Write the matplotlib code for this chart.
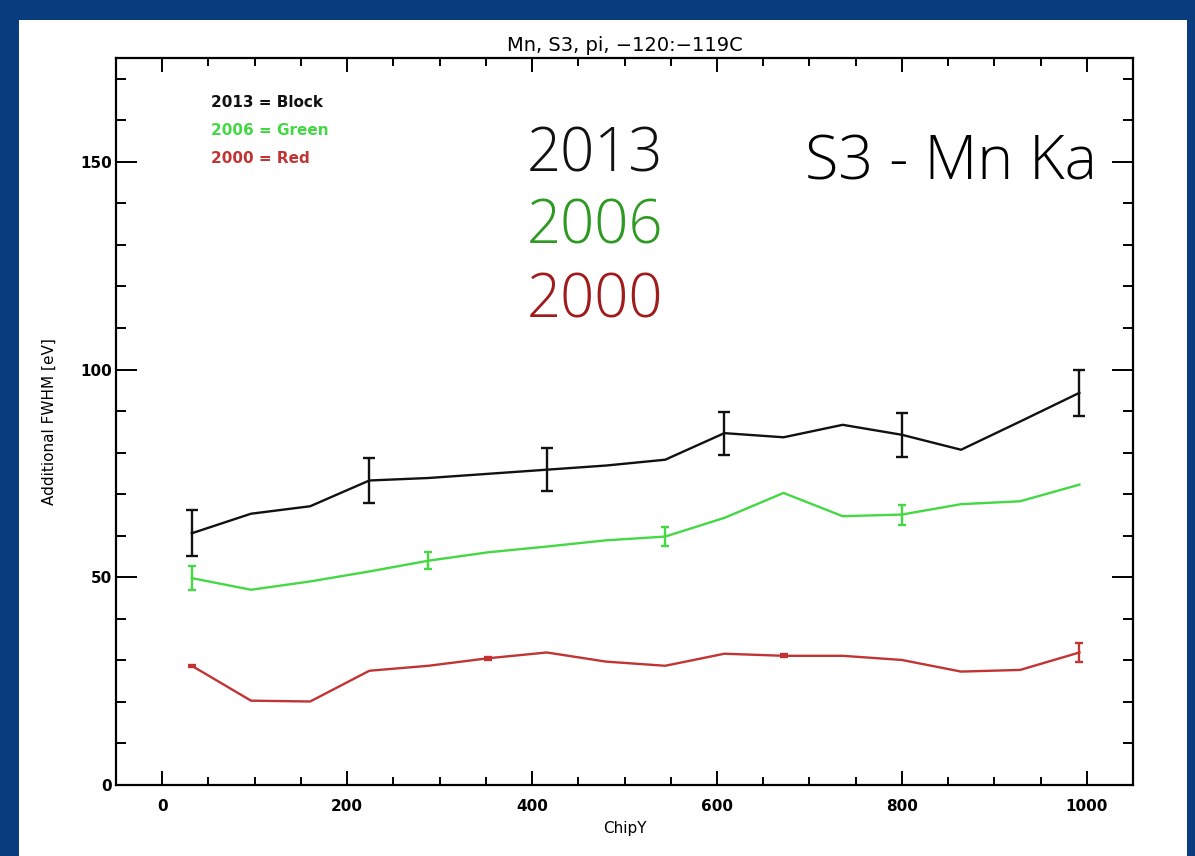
import numpy as np
import matplotlib
matplotlib.use("Agg")
import matplotlib.pyplot as plt
from matplotlib.patches import Rectangle
from matplotlib.ticker import MultipleLocator

# ChipY bin centres (16 bins of 64 rows)
chipy = [32, 96, 160, 224, 288, 352, 416, 480, 544, 608, 672, 736, 800, 864, 928, 992]

fwhm_2013 = [60.6, 65.3, 67.1, 73.3, 73.9, 74.9, 75.9, 76.9, 78.3, 84.7, 83.7, 86.7, 84.3, 80.7, 87.5, 94.4]
fwhm_2006 = [49.8, 47.0, 49.0, 51.4, 54.0, 56.0, 57.4, 58.9, 59.8, 64.3, 70.3, 64.7, 65.1, 67.6, 68.3, 72.3]
fwhm_2000 = [28.7, 20.3, 20.1, 27.5, 28.7, 30.5, 31.9, 29.7, 28.7, 31.6, 31.1, 31.1, 30.1, 27.3, 27.7, 31.9]

# error bars are only drawn on some bins
err_idx_2013 = [0, 3, 6, 9, 12, 15]
err_2013 = [5.5, 5.3, 5.2, 5.2, 5.3, 5.5]
err_idx_2006 = [0, 4, 8, 12]
err_2006 = [2.8, 2.0, 2.3, 2.4]
err_idx_2000 = [0, 5, 10, 15]
err_2000 = [0.3, 0.3, 0.4, 2.2]

legend_lines = ["2013 = Block", "2006 = Green", "2000 = Red"]
big_labels = ["2013", "2006", "2000"]

c_black = "#111111"
c_green = "#44d844"
c_red = "#c23434"
c_big_green = "#2e9a22"
c_big_red = "#a01c1c"
c_blue = "#0a3d7f"

W, H = 1195, 856
fig = plt.figure(figsize=(W / 100, H / 100), dpi=100, facecolor=c_blue)
fig.patches.append(Rectangle((19 / W, 0), (1187 - 19) / W, (H - 20) / H,
                             transform=fig.transFigure, facecolor="white",
                             edgecolor="none", zorder=-5))

ax = fig.add_axes([116 / W, (H - 785) / H, (1133 - 116) / W, (785 - 58) / H])
ax.set_facecolor("white")

x = np.array(chipy)
series = [
    (fwhm_2013, err_idx_2013, err_2013, c_black, 4.5),
    (fwhm_2006, err_idx_2006, err_2006, c_green, 3),
    (fwhm_2000, err_idx_2000, err_2000, c_red, 3),
]
for vals, idx, err, col, cap in series:
    y = np.array(vals)
    ax.plot(x, y, color=col, lw=1.7, zorder=3)
    ax.errorbar(x[idx], y[idx], yerr=err, fmt="none", ecolor=col,
                elinewidth=1.7, capsize=cap, capthick=1.7, zorder=3)

ax.set_xlim(-50, 1050)
ax.set_ylim(0, 175)
ax.xaxis.set_major_locator(MultipleLocator(200))
ax.xaxis.set_minor_locator(MultipleLocator(50))
ax.yaxis.set_major_locator(MultipleLocator(50))
ax.yaxis.set_minor_locator(MultipleLocator(10))
ax.tick_params(axis="x", which="major", direction="in", length=10, width=1.4,
               top=True, labelsize=11, pad=10)
ax.tick_params(axis="x", which="minor", direction="in", length=5.5, width=1.4, top=True)
ax.tick_params(axis="y", which="major", direction="in", length=15, width=1.4,
               right=True, labelsize=11, pad=3)
ax.tick_params(axis="y", which="minor", direction="in", length=7, width=1.4, right=True)
for lab in ax.get_xticklabels() + ax.get_yticklabels():
    lab.set_fontweight("bold")
for sp in ax.spines.values():
    sp.set_linewidth(1.6)

ax.set_xlabel("ChipY", fontsize=11, labelpad=5)
ax.set_ylabel("Additional FWHM [eV]", fontsize=11, labelpad=17)
ax.set_title("Mn, S3, pi, \u2212120:\u2212119C", fontsize=14, pad=5)

# small legend drawn as text, top left
leg_cols = [c_black, c_green, c_red]
for i, (t, col) in enumerate(zip(legend_lines, leg_cols)):
    fig.text(211 / W, 1 - (107 + 28 * i) / H, t, color=col, fontsize=11,
             fontweight="bold", va="baseline")

# large annotation text
big_font = ["Open Sans", "DejaVu Sans"]
big_cols = [c_black, c_big_green, c_big_red]
for i, (t, col) in enumerate(zip(big_labels, big_cols)):
    fig.text(527 / W, 1 - (171 + 73 * i) / H, t, color=col, fontsize=43,
             family=big_font, fontweight="light", va="baseline")
fig.text(805 / W, 1 - 180 / H, "S3 - Mn Ka", color="black", fontsize=44,
         family=big_font, fontweight="light", va="baseline")

fig.savefig("out.png", dpi=100, facecolor=c_blue)
